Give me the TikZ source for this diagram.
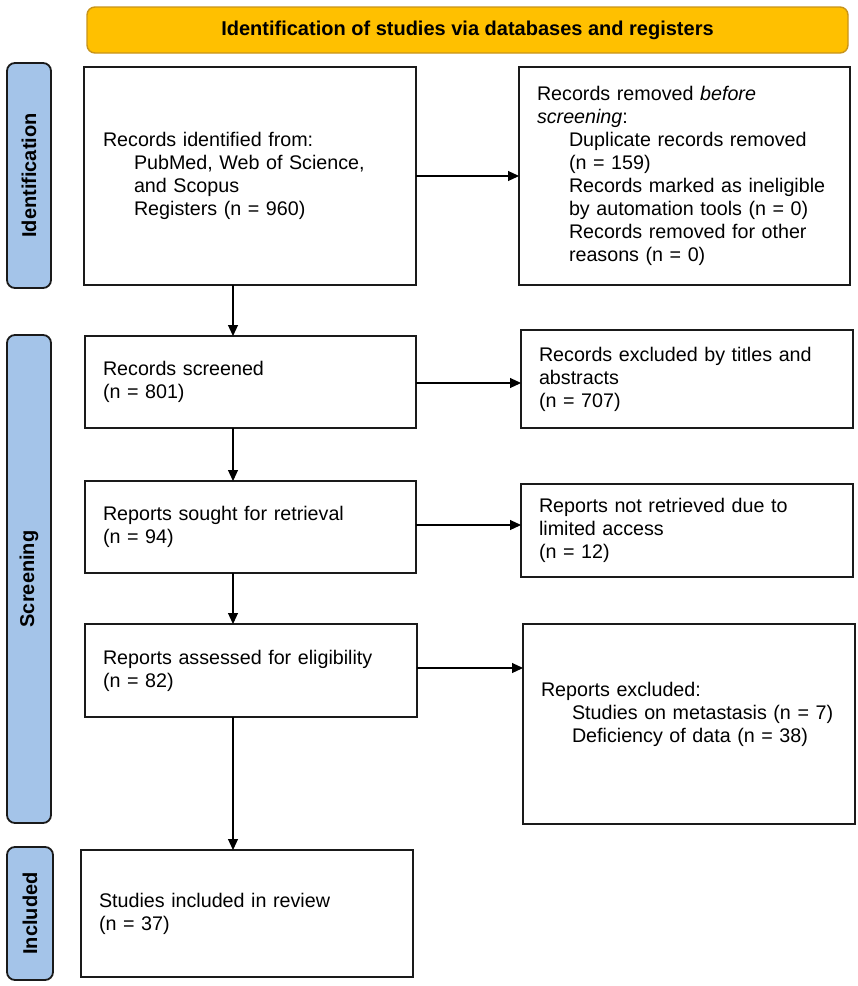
\documentclass[tikz,border=0pt]{standalone}
\usepackage{fontspec}
\setmainfont{Liberation Sans}
\usetikzlibrary{arrows.meta}
\definecolor{bannerfill}{HTML}{FFC000}
\definecolor{bannerdraw}{HTML}{C8941A}
\definecolor{sidefill}{HTML}{A4C4E9}
\definecolor{boxdraw}{HTML}{1A1A1A}
\begin{document}
\begin{tikzpicture}[x=1pt,y=-1pt,
  every node/.style={font=\fontsize{19.7}{23}\selectfont, inner sep=0pt, outer sep=0pt},
  flowbox/.style={draw=boxdraw, line width=1.8pt, fill=white, align=left, anchor=center},
  sidelabel/.style={draw=boxdraw, line width=1.8pt, fill=sidefill, rounded corners=8pt,
    rotate=90, font=\fontsize{20}{22}\selectfont\bfseries, anchor=center},
  banner/.style={draw=bannerdraw, line width=1.4pt, fill=bannerfill, rounded corners=8pt,
    font=\fontsize{20}{22}\selectfont\bfseries, anchor=center},
  arr/.style={line width=1.1pt, draw=black, -{Triangle[length=11pt,width=10pt]}}
]
\useasboundingbox[fill=white] (0,0) rectangle (858,986);

\node[banner, minimum width=761pt, minimum height=46pt] (ban) at (467.5,30) {Identification of studies via databases and registers};

\node[sidelabel, minimum width=225pt, minimum height=44pt] (lid) at (29,175.5) {Identification};
\node[sidelabel, minimum width=488pt, minimum height=44pt] (lsc) at (29,579) {Screening};
\node[sidelabel, minimum width=133pt, minimum height=46pt] (lin) at (30,913.5) {Included};

\node[flowbox, minimum width=332pt, minimum height=218pt, text width=294pt] (A) at (250,176)
 {Records identified from:\\ \hspace*{31pt}PubMed, Web of Science,\\ \hspace*{31pt}and Scopus\\ \hspace*{31pt}Registers (n = 960)};

\node[flowbox, minimum width=331pt, minimum height=218pt, text width=295pt] (B) at (684.5,176)
 {Records removed \textit{before}\\ \textit{screening}:\\
  \hspace*{32pt}Duplicate records removed\\ \hspace*{32pt}(n = 159)\\
  \hspace*{32pt}Records marked as ineligible\\ \hspace*{32pt}by automation tools (n = 0)\\
  \hspace*{32pt}Records removed for other\\ \hspace*{32pt}reasons (n = 0)};

\node[flowbox, minimum width=331pt, minimum height=92pt, text width=295pt] (C) at (250.5,382)
 {Records screened\\ (n = 801)};

\node[flowbox, minimum width=332pt, minimum height=98pt, text width=296pt] (D) at (687,379)
 {Records excluded by titles and\\ abstracts\\ (n = 707)};

\node[flowbox, minimum width=331pt, minimum height=92pt, text width=295pt] (E) at (250.5,527)
 {Reports sought for retrieval\\ (n = 94)};

\node[flowbox, minimum width=332pt, minimum height=93pt, text width=296pt] (F) at (687,530.5)
 {Reports not retrieved due to\\ limited access\\ (n = 12)};

\node[flowbox, minimum width=332pt, minimum height=93pt, text width=296pt] (G) at (251,670.5)
 {Reports assessed for eligibility\\ (n = 82)};

\node[flowbox, minimum width=332pt, minimum height=200pt, text width=296pt] (H) at (689,724)
 {Reports excluded:\\ \hspace*{31pt}Studies on metastasis (n = 7)\\ \hspace*{31pt}Deficiency of data (n = 38)\\ \mbox{}};

\node[flowbox, minimum width=332pt, minimum height=127pt, text width=296pt] (I) at (247,913.5)
 {Studies included in review\\ (n = 37)};

\coordinate (vx) at (233,0);

\draw[arr] (A.east) -- (B.west);
\draw[arr] (A.south -| vx) -- (C.north -| vx);
\draw[arr] ([yshift=-1pt]C.east) -- ([yshift=-1pt]C.east -| D.west);
\draw[arr] (C.south -| vx) -- (E.north -| vx);
\draw[arr] ([yshift=2pt]E.east) -- ([yshift=2pt]E.east -| F.west);
\draw[arr] (E.south -| vx) -- (G.north -| vx);
\draw[arr] ([yshift=2.5pt]G.east) -- ([yshift=2.5pt]G.east -| H.west);
\draw[arr] (G.south -| vx) -- (I.north -| vx);
\end{tikzpicture}
\end{document}
